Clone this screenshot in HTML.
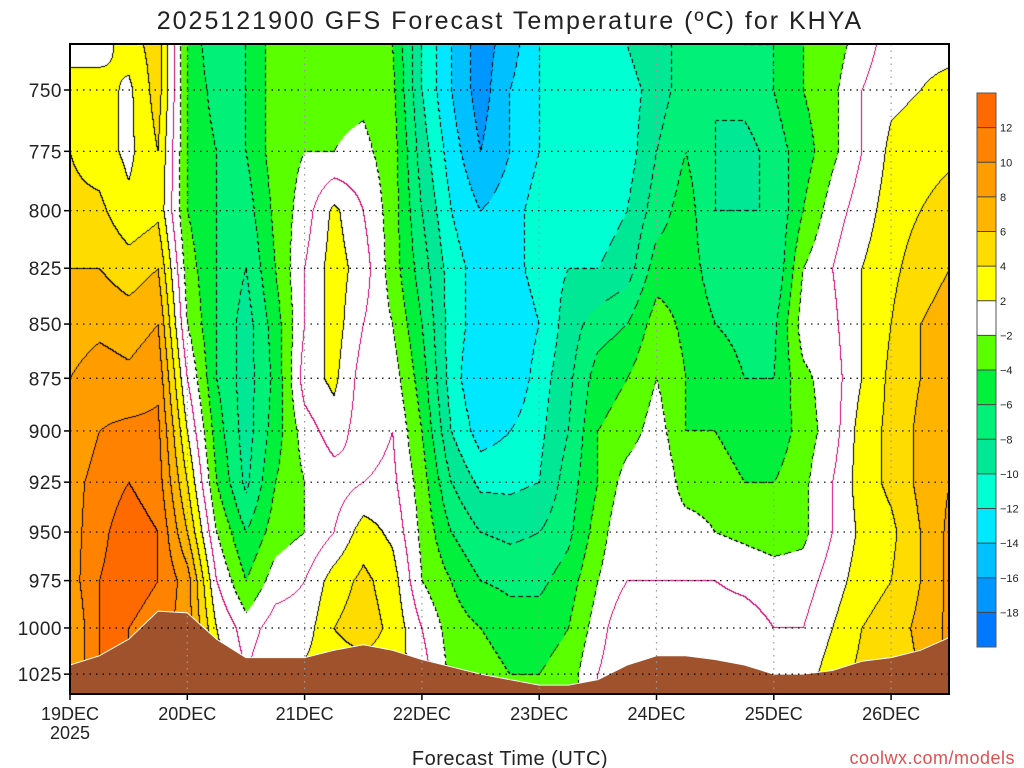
<!DOCTYPE html>
<html><head><meta charset="utf-8">
<style>
html,body{margin:0;padding:0;background:#fff;width:1024px;height:768px;overflow:hidden;font-family:"Liberation Sans",sans-serif}
#wrap{position:relative;width:1024px;height:768px}
#field{position:absolute;left:70px;top:44px}
svg{position:absolute;left:0;top:0}
</style></head>
<body>
<div id="wrap">
<canvas id="field" width="879" height="650"></canvas>
<svg id="ov" width="1024" height="768"></svg>
</div>
<script>
// ---- data ----
const levels = [732,750,775,800,825,850,875,900,925,950,975,1000,1025];
const hours = [0,6,12,18,24,30,36,42,48,54,60,66,72,78,84,90,96,102,108,114,120,126,132,138,144,150,156,162,168,174,180];
const temps = [
[1,3,4,4.5,6,7,8,8,9,9,9,8,8],
[1,3,3,4.5,6,7.5,9,10,11,11.5,12,12,12],
[3,1.5,1.5,2.5,5,7,8.5,10.5,12,13,13,12,12],
[5,5,4,3.5,6,8,9.5,10.5,11,12,12,11,11],
[-4,-4,-4,-4,-3,-2,0,2,4,6,9,9,9],
[-8,-7,-6,-6,-6,-6,-6,-5,-4,-2,0,2,3],
[-6,-6,-6,-7,-8,-9,-9,-9,-8.5,-6,-4,-1,0],
[-3,-3,-3,-3.5,-4,-5,-5.5,-5,-4,-3,-1,1,2],
[-3,-2.5,-2,-1,0,0,1,-1,-2,-2,0,1,2.5],
[-3,-2.5,-2,2.5,3,3,2.5,1,-1,0,3,4,3],
[-3,-2.5,-1.5,0,1,0,-1,-1,0,3,4.5,5,3],
[-4,-3.5,-3,-3,-3,-2,-1,0,0.5,1.5,3,3.5,3],
[-10,-10,-9,-8,-7,-6,-5,-4,-3,-2.5,-2,0,1],
[-14,-14,-13,-12,-11,-11,-11,-10,-8,-6,-4,-3,-2.5],
[-17,-17,-16,-14,-13,-13,-14,-13,-10.5,-8,-6,-4,-3],
[-15,-14,-14,-13,-13,-14,-14,-12,-10.5,-8.5,-6.5,-5,-4],
[-12,-12,-12,-11,-11,-12,-11,-10.5,-10,-8,-6.5,-5,-4],
[-11,-11,-11,-10.5,-10,-9,-8.5,-8,-7,-6.5,-5,-4,-3],
[-11,-11,-11,-11,-10,-7,-5,-4,-4,-3,-2,-1,0],
[-10,-11,-11,-10,-9,-6,-4,-3,-1,0,0,2,2],
[-8,-9,-8,-7,-5,-3,-2,-1,0,-1,0,1,2],
[-8,-7,-6,-5,-5,-4.5,-4,-4,-3,-1,0,0,1],
[-8,-8,-8,-8,-7,-6,-5,-4,-3,-2,0,1,2],
[-6,-7,-9,-8,-7,-6.5,-6,-5,-4,-2.5,-0.5,1,2],
[-6,-6,-7,-8,-8,-6.5,-6,-5.5,-4,-3,-1,0,2],
[-4,-4,-5,-4,-2,-1,-2.5,-3,-2.5,-2.5,-1,0,1],
[-3,-2.5,-2.5,-1,0,-0.5,-1,-1,0,0,1,2,3],
[-1,0,0,1,2,2,2,3,3,2.5,3,4,4.5],
[1,1.5,2.5,3,3.5,4,4.5,4.5,4.5,3.5,4,5,5],
[1.5,2,3,4,5,6,6,6.5,6.5,6,6,6.5,6],
[1.5,2.5,3.5,5,6,7,8,8,8,8.5,8.5,8.5,8.5]
];
const surfaceP = [1020,1015,1006,991,992,1006,1016,1016,1016,1012,1009,1012,1017,1021,1025,1028,1031,1031,1028,1020,1015,1015,1017,1020,1025,1025,1023,1018,1016,1012,1005];
const pTicks = [750,775,800,825,850,875,900,925,950,975,1000,1025];
const dayLabels = ["19DEC","20DEC","21DEC","22DEC","23DEC","24DEC","25DEC","26DEC"];
const cbLabels = ["12","10","8","6","4","2","-2","-4","-6","-8","-10","-12","-14","-16","-18"];
const bounds = [12,10,8,6,4,2,-2,-4,-6,-8,-10,-12,-14,-16,-18];
const colors = ["#ff6a00","#ff8200","#ff9c00","#ffb400","#ffdc00","#ffff00","#ffffff","#5aff00","#00f03c","#00f078","#00e896","#00ffd2","#00e8ff","#00c0ff","#0096ff","#0078ff"];

// ---- axes ----
const X0=70,X1=949,Y0=44,Y1=694;
const xScale = h => X0 + h/24*117.3;
const yScale = p => 90 + (Math.log(p)-Math.log(750))*1870;
const pFromY = y => Math.exp(Math.log(750)+(y-90)/1870);
function bandIdx(v){for(let i=0;i<bounds.length;i++){if(v>=bounds[i])return i;}return bounds.length;}
function hex(c){return [parseInt(c.slice(1,3),16),parseInt(c.slice(3,5),16),parseInt(c.slice(5,7),16)];}
const rgb=colors.map(hex);

// ---- field ----
const cv=document.getElementById('field'),ctx=cv.getContext('2d');
const W=cv.width,H=cv.height,img=ctx.createImageData(W,H);
const lnL=levels.map(Math.log);
const vals=new Float32Array(W*H);
for(let py=0;py<H;py++){
  const lp=Math.log(pFromY(py+Y0));
  let j=0;while(j<lnL.length-2&&lp>lnL[j+1])j++;
  let fy=(lp-lnL[j])/(lnL[j+1]-lnL[j]);fy=Math.max(0,Math.min(1,fy));
  for(let px=0;px<W;px++){
    const h=(px)/117.3*24;
    let i=Math.min(hours.length-2,Math.floor(h/6));
    let fx=(h-hours[i])/(hours[i+1]-hours[i]);fx=Math.max(0,Math.min(1,fx));
    vals[py*W+px]=(temps[i][j]*(1-fx)+temps[i+1][j]*fx)*(1-fy)+(temps[i][j+1]*(1-fx)+temps[i+1][j+1]*fx)*fy;
  }
}
for(let py=0;py<H;py++)for(let px=0;px<W;px++){
  const v=vals[py*W+px],b=bandIdx(v);let c=rgb[b];
  // contour lines at 2-degree steps
  const lv=Math.floor(v/2);
  let edge=false,zero=false;
  if(px+1<W){const v2=vals[py*W+px+1];if(Math.floor(v2/2)!==lv)edge=true;if((v2>=0)!==(v>=0))zero=true;}
  if(py+1<H){const v2=vals[(py+1)*W+px];if(Math.floor(v2/2)!==lv)edge=true;if((v2>=0)!==(v>=0))zero=true;}
  if(zero)c=[210,0,110];
  else if(edge){ if(v>=0 || ((px+py)%8)<5) c=[0,0,0]; }
  const k=(py*W+px)*4;
  img.data[k]=c[0];img.data[k+1]=c[1];img.data[k+2]=c[2];img.data[k+3]=255;
}
ctx.putImageData(img,0,0);

// ---- overlay ----
const NS="http://www.w3.org/2000/svg",svg=document.getElementById('ov');
function el(t,a,parent){const e=document.createElementNS(NS,t);for(const k in a)e.setAttribute(k,a[k]);(parent||svg).appendChild(e);return e;}
function txt(s,a){const e=el('text',a);e.textContent=s;return e;}

// terrain
let d="M"+X0+","+Y1;
hours.forEach((h,i)=>{d+=" L"+xScale(h).toFixed(1)+","+Math.min(Y1,yScale(surfaceP[i])).toFixed(1);});
d+=" L"+X1+","+Y1+" Z";
const terr=el('path',{d:d,fill:"#a0522d",stroke:"#fff","stroke-width":1});



// grid
pTicks.forEach(p=>{
  const y=yScale(p);
  const g=el('line',{x1:X0,x2:X1,y1:y,y2:y,stroke:"#000","stroke-width":1.2,"stroke-dasharray":"1.5,5"});
  
  
  el('line',{x1:X0-6,x2:X0,y1:y,y2:y,stroke:"#000","stroke-width":1.5});
  const t=txt(String(p),{x:62,y:y+7,"text-anchor":"end","font-size":19,fill:"#222","letter-spacing":"0.5"});
  
  
});
dayLabels.forEach((s,i)=>{
  const x=xScale(i*24);
  if(i>0){const g=el('line',{x1:x,x2:x,y1:Y0,y2:Y1,stroke:"#999","stroke-width":1.2,"stroke-dasharray":"1.5,5"});
  
  }
  el('line',{x1:x,x2:x,y1:Y1,y2:Y1+6,stroke:"#000","stroke-width":1.5});
  const t=txt(s,{x:x,y:720,"text-anchor":"middle","font-size":18,fill:"#222"});
  
  
});
const yr=txt("2025",{x:70,y:739,"text-anchor":"middle","font-size":18,fill:"#222"});


const fr=el('rect',{x:X0,y:Y0,width:X1-X0,height:Y1-Y0,fill:"none",stroke:"#000","stroke-width":2});



const title=txt("2025121900 GFS Forecast Temperature (\u00baC) for KHYA",{x:510,y:29,"text-anchor":"middle","font-size":25,fill:"#222","letter-spacing":"2"});


const xt=txt("Forecast Time (UTC)",{x:510,y:765,"text-anchor":"middle","font-size":20,fill:"#222","letter-spacing":"0.5"});


const cr=txt("coolwx.com/models",{x:1015,y:764,"text-anchor":"end","font-size":18,fill:"#e05050","letter-spacing":"0.5"});



// colorbar
const cbX=977,cbY=93,cbH=554/colors.length;
colors.forEach((c,i)=>{
  const r=el('rect',{x:cbX,y:cbY+i*cbH,width:19,height:cbH+0.5,fill:c});
  
  
});
el('rect',{x:cbX,y:cbY,width:19,height:554,fill:"none",stroke:"#555","stroke-width":1});
cbLabels.forEach((s,i)=>{
  const y=cbY+(i+1)*cbH;
  el('line',{x1:cbX,x2:cbX+19,y1:y,y2:y,stroke:"#444","stroke-width":1});
  const t=txt(s.replace('-','\u2212'),{x:1000,y:y+4,"font-size":11,fill:"#222"});
  
  
});
</script>
</body></html>
